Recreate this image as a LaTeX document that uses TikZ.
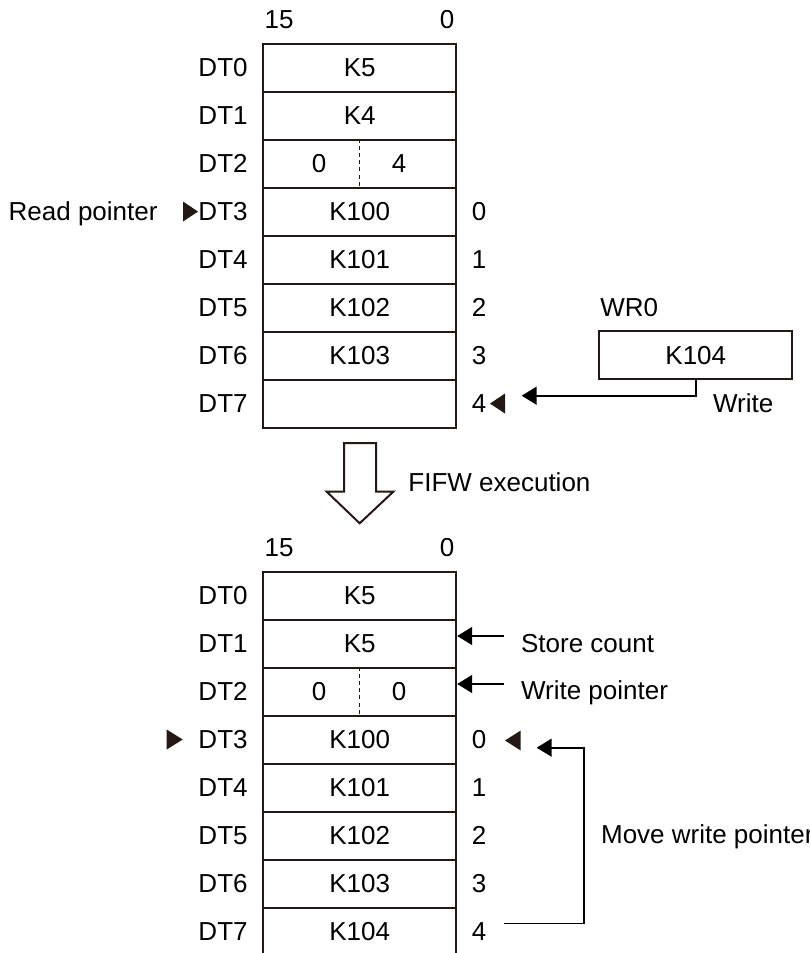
\documentclass[tikz,border=0pt]{standalone}
\usepackage{fontspec}
\setmainfont{Liberation Sans}
\usetikzlibrary{arrows.meta,positioning,calc}
\definecolor{ink}{HTML}{231815}

\begin{document}
\begin{tikzpicture}[
    x=0.5pt, y=-0.5pt,
    lbl/.style={inner sep=0pt, text height=9.3pt, text depth=0pt, font=\fontsize{13}{15}\selectfont},
    cell/.style={lbl, draw=ink, line width=1pt, minimum width=96.5pt, minimum height=24pt},
    regbox/.style={cell, minimum width=96.5pt},
    divider/.style={ink, line width=0.7pt, dash pattern=on 2pt off 1.6pt},
    marker/.style={fill=ink, draw=none},
    ptr/.style={line width=0.8pt, -{Triangle[length=7.5pt, width=9pt]}},
    hollow/.style={draw=ink, line width=1pt, fill=white},
]

\useasboundingbox (0,0) rectangle (809,953);
\clip (0,0) rectangle (809,953);

\def\cx{359.7}    % table centre
\def\topA{43.5}   % top of upper table
\def\topB{571.5}  % top of lower table

% Upper table (before FIFW)
\node[lbl] (hA15) at (279,19) {15};
\node[lbl] (hA0) at (447,19) {0};
\foreach \v [count=\i from 0] in {K5,K4,{},K100,K101,K102,K103,{}} {
    \pgfmathsetmacro{\cy}{\topA+24+48*\i}
    \node[cell] (a\i) at (\cx,\cy) {\v};
    \node[lbl, anchor=east] (da\i) at (248,\cy) {DT\i};
}
\draw[divider] (a2.north) -- (a2.south);
\node[lbl] (a2l) at (319,163.5) {0};
\node[lbl] (a2r) at (399,163.5) {4};
\foreach \n in {0,...,4}
    \node[lbl] (ia\n) at (479,211.5+48*\n) {\n};

% Read pointer
\node[lbl, anchor=west] (rp) at (8.3,211.5) {Read pointer};
\fill[marker] (183,201.5) -- (198,211.5) -- (183,221.5) -- cycle;
\fill[marker] (505,393.5) -- (490,403.5) -- (505,413.5) -- cycle;

% WR0 and write
\node[lbl, anchor=west] (wrname) at (600,306.7) {WR0};
\node[regbox] (wr) at (695.8,355.2) {K104};
\node[lbl, anchor=west] (wrt) at (712.7,403) {Write};
\coordinate (wtip) at (521.7,395.7);
\draw[ptr] (wr.south) |- (wtip);

% FIFW execution
\draw[hollow] (344,443) -- (344,491.7) -- (326.7,491.7) -- (\cx,523.3)
    -- (393.3,491.7) -- (376,491.7) -- (376,443) -- cycle;
\node[lbl, anchor=west] (exec) at (408,482.5) {FIFW execution};

% Lower table (after FIFW)
\node[lbl] (hB15) at (279,547.3) {15};
\node[lbl] (hB0) at (447,547.3) {0};
\foreach \v [count=\i from 0] in {K5,K5,{},K100,K101,K102,K103,K104} {
    \pgfmathsetmacro{\cy}{\topB+24+48*\i}
    \node[cell] (b\i) at (\cx,\cy) {\v};
    \node[lbl, anchor=east] (db\i) at (248,\cy) {DT\i};
}
\draw[divider] (b2.north) -- (b2.south);
\node[lbl] (b2l) at (319,691.5) {0};
\node[lbl] (b2r) at (399,691.5) {0};
\foreach \n in {0,...,4}
    \node[lbl] (ib\n) at (479,739.5+48*\n) {\n};
\fill[marker] (166.7,729.5) -- (182.7,739.5) -- (166.7,749.5) -- cycle;
\fill[marker] (520.7,730.5) -- (505,740.5) -- (520.7,750.5) -- cycle;

% Store count / write pointer
\node[lbl, anchor=west] (sc) at (520.7,642.8) {Store count};
\node[lbl, anchor=west] (wp) at (520.7,690) {Write pointer};
\coordinate (scfrom) at (504,636);
\coordinate (wpfrom) at (504,684);
\draw[ptr] (scfrom) -- (scfrom -| b1.east);
\draw[ptr] (wpfrom) -- (wpfrom -| b2.east);

% Move write pointer
\node[lbl, anchor=west] (mv) at (600.7,834.5) {Move write pointer};
\coordinate (mvfrom) at (504,923.3);
\coordinate (mvto) at (536.7,747.7);
\draw[ptr] (mvfrom) -- ++(80,0) |- (mvto);

\end{tikzpicture}
\end{document}
